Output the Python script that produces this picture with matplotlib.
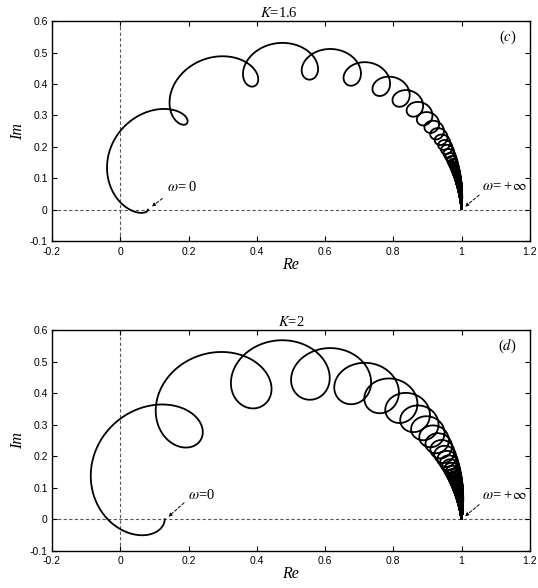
import numpy as np
import matplotlib
matplotlib.use("Agg")
import matplotlib.pyplot as plt

# Nyquist curves F(jw) = (s^2 + a1 s + a0 + (b1 s + b0) e^{-s tau}) / (s^2 + c1 s + 1)
K_values = [1.6, 2]
panel_tags = ['c', 'd']
num_a1 = 0.9728
num_a0 = 0.0063
den_c1 = 2.1159
delay_tau = 14.22
delay_b1 = [-0.1048, -0.1679]
delay_b0 = [0.0746, 0.1239]
start_labels = [r'$\omega$= 0', r'$\omega$=0']
end_label = r'$\omega$= +$\infty$'

x_ticks = [-0.2, 0, 0.2, 0.4, 0.6, 0.8, 1, 1.2]
y_ticks = [-0.1, 0, 0.1, 0.2, 0.3, 0.4, 0.5, 0.6]

plt.rcParams['mathtext.fontset'] = 'stix'
plt.rcParams['font.family'] = 'Liberation Sans'
serif = 'Liberation Serif'

omega = np.linspace(0, 400, 160000)
s = 1j * omega

fig = plt.figure(figsize=(5.38, 5.88), dpi=100)

# axes boxes in figure fractions (left, bottom, width, height)
boxes = [[0.0967, 0.590, 0.888, 0.374], [0.0967, 0.0634, 0.888, 0.375]]
# annotation placement per panel: start text, start arrow tail, start arrow head
start_txt = [(0.136, 0.050), (0.198, 0.054)]
start_tail = [(0.13, 0.041), (0.193, 0.058)]
start_head = [(0.086, 0.005), (0.135, 0.002)]
title_x = [0.475, 0.5]

for k in range(2):
    ax = fig.add_axes(boxes[k])
    F = (s * s + num_a1 * s + num_a0 + (delay_b1[k] * s + delay_b0[k]) * np.exp(-s * delay_tau)) \
        / (s * s + den_c1 * s + 1)
    ax.plot(F.real, F.imag, color='k', lw=1.3)

    ax.axhline(0, color='0.35', ls=(0, (3, 2)), lw=0.8, zorder=0)
    ax.axvline(0, color='0.35', ls=(0, (3, 2)), lw=0.8, zorder=0)

    ax.set_xlim(-0.2, 1.2)
    ax.set_ylim(-0.1, 0.6)
    ax.set_xticks(x_ticks)
    ax.set_yticks(y_ticks)
    ax.set_xticklabels(['-0.2', '0', '0.2', '0.4', '0.6', '0.8', '1', '1.2'])
    ax.set_yticklabels(['-0.1', '0', '0.1', '0.2', '0.3', '0.4', '0.5', '0.6'])
    ax.tick_params(direction='in', top=True, right=True, labelsize=7.5, length=3.5, width=0.8)
    ax.tick_params(axis='x', pad=4)
    ax.tick_params(axis='y', pad=3)
    for sp in ax.spines.values():
        sp.set_linewidth(1.0)

    ax.set_xlabel('Re', family=serif, style='italic', fontsize=11.5, labelpad=0)
    ax.set_ylabel('Im', family=serif, style='italic', fontsize=11.5, labelpad=3)
    ax.text(title_x[k], 1.004, r'$K$=%g' % K_values[k], transform=ax.transAxes,
            ha='center', va='bottom', family=serif, fontsize=10.5)
    ax.text(1.135, 0.55, r'($%s$)' % panel_tags[k], ha='center', va='center',
            family=serif, fontsize=10.5)

    ax.annotate('', xy=start_head[k], xytext=start_tail[k],
                arrowprops=dict(arrowstyle='-|>', ls=(0, (3, 2)), lw=0.7, color='k', mutation_scale=5))
    ax.text(start_txt[k][0], start_txt[k][1], start_labels[k], family=serif, fontsize=10.5,
            ha='left', va='bottom')
    ax.annotate('', xy=(1.004, 0.004), xytext=(1.058, 0.052),
                arrowprops=dict(arrowstyle='-|>', ls=(0, (3, 2)), lw=0.7, color='k', mutation_scale=5))
    ax.text(1.06, 0.054, end_label, family=serif, fontsize=10.5, ha='left', va='bottom')

fig.savefig("out.png", dpi=100)
